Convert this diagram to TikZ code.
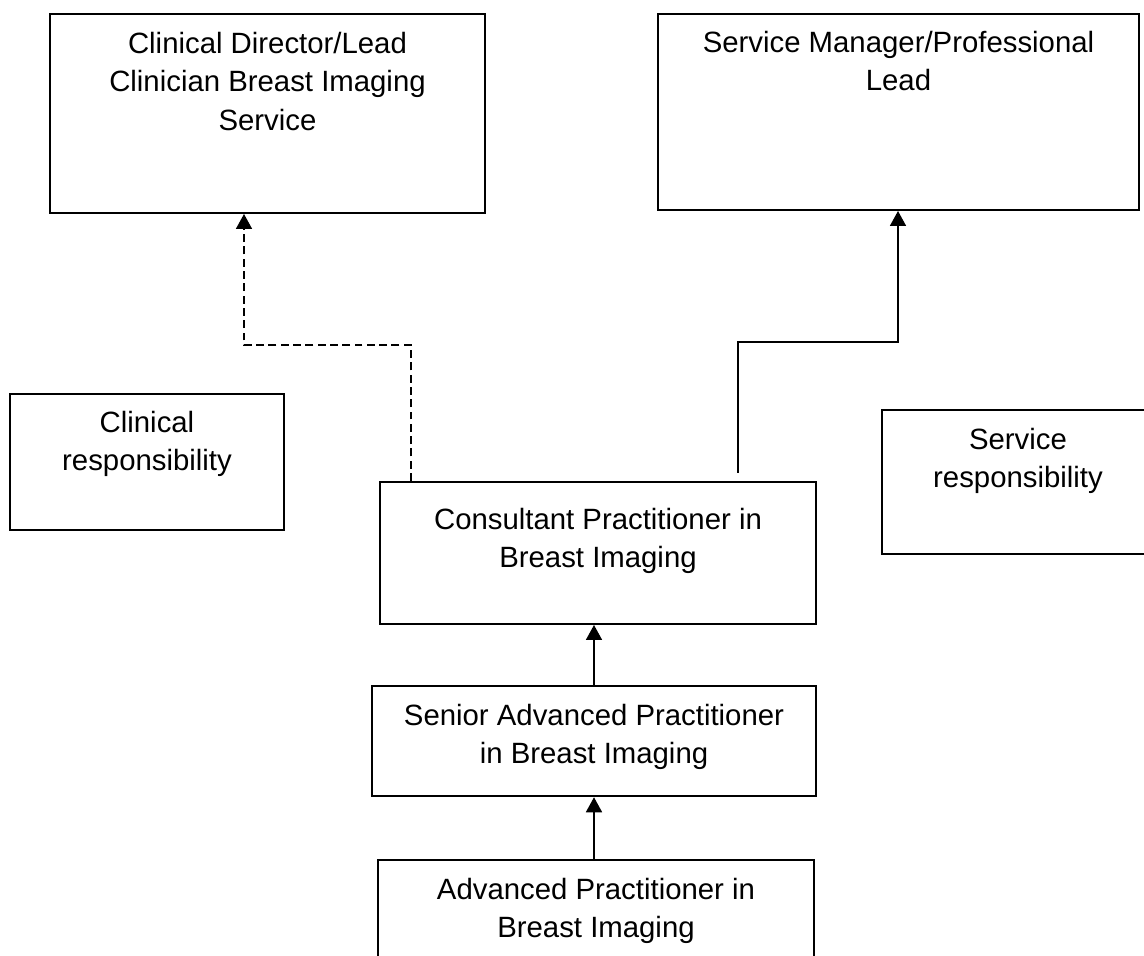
\documentclass[tikz,border=0pt]{standalone}
\usepackage{fontspec}
\setmainfont{Liberation Sans}
\usepackage{tikz}
\usetikzlibrary{arrows.meta}

\begin{document}
\begin{tikzpicture}[
	rolebox/.style={shape=rectangle, draw=black, line width=1.15pt, inner sep=0pt},
	roletext/.style={anchor=north, inner sep=0pt, align=center, font=\fontsize{16.7}{21.9}\selectfont},
	uplink/.style={-{Triangle[width=0.32cm,length=0.30cm]}, line width=0.95pt},
	]
	
	\useasboundingbox (0,0) rectangle (22.88,19.12);
	
	\node[rolebox, minimum width=8.70cm, minimum height=3.98cm] (director)   at (5.35, 16.85)  {};
	\node[rolebox, minimum width=9.62cm, minimum height=3.92cm] (manager)    at (17.97, 16.88) {};
	\node[rolebox, minimum width=5.48cm, minimum height=2.72cm] (clinresp)   at (2.94, 9.88)   {};
	\node[rolebox, minimum width=5.44cm, minimum height=2.88cm] (servresp)   at (20.36, 9.48)  {};
	\node[rolebox, minimum width=8.72cm, minimum height=2.84cm] (consultant) at (11.96, 8.06)  {};
	\node[rolebox, minimum width=8.88cm, minimum height=2.20cm, line width=1.45pt] (senior) at (11.88, 4.30) {};
	\node[rolebox, minimum width=8.72cm, minimum height=2.92cm] (advanced)   at (11.92, 0.46)  {};
	
	\node[roletext] (directortxt)   at (5.35, 18.49)  {Clinical Director/Lead\\Clinician Breast Imaging\\Service};
	\node[roletext] (managertxt)    at (17.97, 18.51) {Service Manager/Professional\\Lead};
	\node[roletext] (clinresptxt)   at (2.94, 10.91)  {Clinical\\responsibility};
	\node[roletext] (servresptxt)   at (20.36, 10.57) {Service\\responsibility};
	\node[roletext] (consultanttxt) at (11.96, 8.97)  {Consultant Practitioner in\\Breast Imaging};
	\node[roletext] (seniortxt)     at (11.88, 5.05)  {Senior Advanced Practitioner\\in Breast Imaging};
	\node[roletext] (advancedtxt)   at (11.92, 1.57)  {Advanced Practitioner in\\Breast Imaging};
	
	\coordinate (clinfoot) at (8.22, 12.22);
	\coordinate (clinbend) at (4.88, 12.22);
	\coordinate (servfoot) at (14.76, 9.66);
	\coordinate (servbend) at (17.96, 12.28);
	
	\draw[uplink, dash pattern=on 4.5pt off 2.5pt] (clinfoot |- consultant.north) -- (clinfoot) -- (clinbend) -- (clinbend |- director.south);
	\draw[uplink] (servfoot) |- (servbend) -- (servbend |- manager.south);
	\draw[uplink] (senior.north) -- (senior.north |- consultant.south);
	\draw[uplink] (senior.south |- advanced.north) -- (senior.south);
	
\end{tikzpicture}
\end{document}
